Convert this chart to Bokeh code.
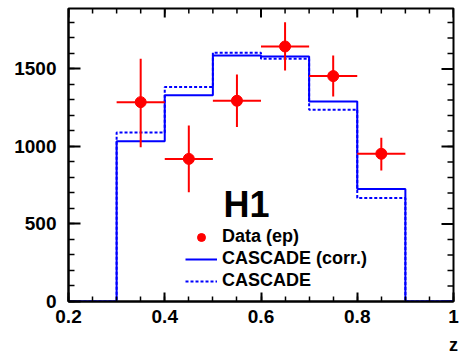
from bokeh.plotting import figure
from bokeh.models import (Range1d, FixedTicker, LinearAxis, Label, Legend, LegendItem, ColumnDataSource)
from bokeh.embed import file_html
from bokeh.resources import INLINE
import math

# ---- data ----
bin_lo = [0.3, 0.4, 0.5, 0.6, 0.7, 0.8]
bin_hi = [0.4, 0.5, 0.6, 0.7, 0.8, 0.9]
z_mid = [0.35, 0.45, 0.55, 0.65, 0.75, 0.85]
data_val = [1286, 920, 1295, 1645, 1454, 953]
data_up = [1566, 1135, 1465, 1802, 1587, 1056]
data_dn = [995, 705, 1125, 1490, 1323, 845]
hist_edges = [0.2, 0.3, 0.4, 0.5, 0.6, 0.7, 0.8, 0.9, 1.0]
casc_corr = [0, 1034, 1331, 1587, 1580, 1290, 725, 0]
casc = [0, 1090, 1383, 1605, 1566, 1237, 667, 0]
x_ticks = [0.2, 0.4, 0.6, 0.8, 1.0]
x_tick_labels = {0.2: "0.2", 0.4: "0.4", 0.6: "0.6", 0.8: "0.8", 1.0: "1"}
y_ticks = [0, 500, 1000, 1500]
x_minor = [round(0.2 + 0.05 * i, 3) for i in range(17)]
y_minor = list(range(0, 1900, 100))

FONT = "Liberation Sans"
Y_TOP = 1890

p = figure(width=465, height=358, output_backend="svg", toolbar_location=None,
           x_range=Range1d(0.2, 1.0), y_range=Range1d(0, Y_TOP),
           min_border_left=68, min_border_right=12, min_border_top=8, min_border_bottom=57,
           x_axis_location=None, y_axis_location=None)
p.xgrid.visible = False
p.ygrid.visible = False
p.outline_line_color = "black"
p.outline_line_width = 2
p.background_fill_color = "white"
p.border_fill_color = "white"

def mk_axis(loc, ticks, minor, labels, major_len, minor_len):
    ax = LinearAxis(ticker=FixedTicker(ticks=ticks, minor_ticks=minor))
    ax.major_tick_in = major_len
    ax.major_tick_out = 0
    ax.minor_tick_in = minor_len
    ax.minor_tick_out = 0
    ax.axis_line_width = 2
    ax.major_tick_line_width = 2
    ax.minor_tick_line_width = 1.5
    ax.major_label_text_font = FONT
    ax.major_label_text_font_style = "bold"
    ax.major_label_text_font_size = "19px"
    ax.major_label_text_color = "black"
    if labels:
        ax.major_label_overrides = labels
    p.add_layout(ax, loc)
    return ax

bx = mk_axis("below", x_ticks, x_minor, x_tick_labels, 9, 5)
bx.major_label_standoff = 8
bx.axis_label = "z"
bx.axis_label_text_font = FONT
bx.axis_label_text_font_style = "bold"
bx.axis_label_text_font_size = "18px"
bx.axis_label_text_color = "black"
bx.axis_label_standoff = 9
bx.axis_label_align = "end"
ly = mk_axis("left", y_ticks, y_minor, None, 12, 6)
ly.major_label_standoff = 12

# mirrored ticks on top and right edges (half of each dash is clipped by the frame)
p.scatter(x=x_ticks, y=[Y_TOP] * len(x_ticks), marker="dash", size=18,
          angle=math.pi / 2, line_color="black", line_width=2)
p.scatter(x=x_minor, y=[Y_TOP] * len(x_minor), marker="dash", size=10,
          angle=math.pi / 2, line_color="black", line_width=1.5)
p.scatter(x=[1.0] * len(y_ticks), y=y_ticks, marker="dash", size=24,
          line_color="black", line_width=2)
p.scatter(x=[1.0] * len(y_minor), y=y_minor, marker="dash", size=12,
          line_color="black", line_width=1.5)

# histograms
r_corr = p.step(x=hist_edges, y=casc_corr + [casc_corr[-1]], mode="after",
                line_color="blue", line_width=2)
r_casc = p.step(x=hist_edges, y=casc + [casc[-1]], mode="after",
                line_color="blue", line_width=2, line_dash="3 2")

# data
src = ColumnDataSource(dict(x=z_mid, y=data_val, lo=bin_lo, hi=bin_hi, up=data_up, dn=data_dn))
p.segment(x0="lo", x1="hi", y0="y", y1="y", source=src, line_color="red", line_width=2)
p.segment(x0="x", x1="x", y0="dn", y1="up", source=src, line_color="red", line_width=2)
r_data = p.scatter(x="x", y="y", source=src, size=11, fill_color="red", line_color="red")

legend = Legend(items=[
    LegendItem(label="Data (ep)", renderers=[r_data]),
    LegendItem(label="CASCADE (corr.)", renderers=[r_corr]),
    LegendItem(label="CASCADE", renderers=[r_casc]),
], location=(117, 10), border_line_color=None, background_fill_alpha=0,
   label_text_font=FONT, label_text_font_style="bold", label_text_font_size="18px",
   label_text_color="black",
   glyph_width=32, glyph_height=20, label_height=20, spacing=1, padding=0, margin=0,
   label_standoff=5)
p.add_layout(legend, "center")

p.add_layout(Label(x=0.522, y=626, text="H1", text_font=FONT, text_font_style="bold",
                   text_font_size="36px", text_color="black", text_baseline="alphabetic"))

open("out.html", "w").write(file_html(p, INLINE))
